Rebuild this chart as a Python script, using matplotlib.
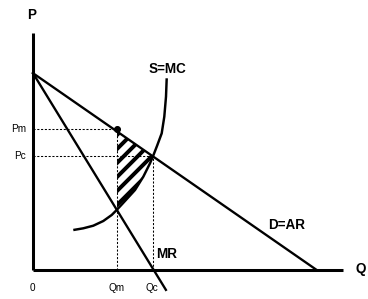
import matplotlib
matplotlib.use("Agg")
import matplotlib.pyplot as plt

# ---- data (economic units) ----
axis_q_max = 109.2
axis_p_max = 83.5

demand_q = [0.0, 99.9]
demand_p = [69.3, 0.0]

mr_q = [0.0, 46.8]
mr_p = [69.3, -7.0]

mc_q = [14.19, 17.71, 21.23, 24.75, 27.71, 29.47, 32.39, 35.92, 38.84, 41.20,
        42.36, 43.66, 45.32, 46.23, 46.83, 47.08]
mc_p = [14.08, 14.68, 15.60, 17.25, 19.37, 21.13, 24.30, 28.17, 32.85, 37.57,
        40.32, 43.66, 48.13, 53.98, 61.02, 67.50]

Qm, Pm = 29.6, 49.8
Qc, Pc = 42.3, 40.0

# hatched welfare-loss area: along Qm, MC up to Qc, back along demand
loss_q = [29.6, 29.6, 32.39, 35.92, 38.84, 41.20, 42.3, 29.6]
loss_p = [48.8, 21.2, 24.30, 28.17, 32.85, 37.57, 40.0, 48.8]

price_labels = ["Pm", "Pc"]
qty_labels = ["0", "Qm", "Qc"]

# ---- figure ----
DPI = 84
W, H = 368, 299
S = 2.84  # px per unit
OX, OY = 33, 270

plt.rcParams['hatch.linewidth'] = 3.4
fig = plt.figure(figsize=(W / DPI, H / DPI), dpi=DPI)
ax = fig.add_axes([0, 0, 1, 1])
ax.set_xlim(-OX / S, (W - OX) / S)
ax.set_ylim(-(H - OY) / S, OY / S)
ax.axis('off')

bold = dict(family='Liberation Sans', weight='bold', fontsize=11.6, color='black')
reg = dict(family='Liberation Sans', fontsize=8.6, color='black')

# hatched area
ax.fill(loss_q, loss_p, facecolor='none', edgecolor='black', linewidth=0,
        hatch='//', zorder=1)

# dotted guide lines
dot_style = dict(color='black', lw=0.9, dashes=(2, 1.6), zorder=2)
ax.plot([0, Qm], [Pm, Pm], **dot_style)
ax.plot([0, Qc], [Pc, Pc], **dot_style)
ax.plot([Qm, Qm], [0, Pm], **dot_style)
ax.plot([Qc, Qc], [0, Pc], **dot_style)

# curves
ax.plot(demand_q, demand_p, color='black', lw=2.0, zorder=3)
ax.plot(mr_q, mr_p, color='black', lw=2.0, zorder=3)
ax.plot(mc_q, mc_p, color='black', lw=2.1, zorder=3, solid_capstyle='butt',
        solid_joinstyle='round')
ax.plot([Qm], [Pm], 'o', color='black', ms=5, zorder=4)

# axes
ax.plot([0, 0], [0, axis_p_max], color='black', lw=2.6, solid_capstyle='butt', zorder=5)
ax.plot([0, axis_q_max], [0, 0], color='black', lw=2.6, solid_capstyle='butt', zorder=5)

# labels
ax.text(-0.35, 89.8, "P", ha='center', va='center', **bold)
ax.text(113.4, 0.35, "Q", ha='left', va='center', **bold)
ax.text(47.5, 70.8, "S=MC", ha='center', va='center', **bold)
ax.text(47.2, 5.6, "MR", ha='center', va='center', **bold)
ax.text(89.4, 15.8, "D=AR", ha='center', va='center', **bold)

for lab, p in zip(price_labels, [Pm, Pc]):
    ax.text(-2.5, p, lab, ha='right', va='center', **reg)
for lab, q in zip(qty_labels, [0.0, Qm, Qc]):
    ax.text(q - 0.3, -6.3, lab, ha='center', va='center', **reg)

fig.savefig("out.png", dpi=DPI)
